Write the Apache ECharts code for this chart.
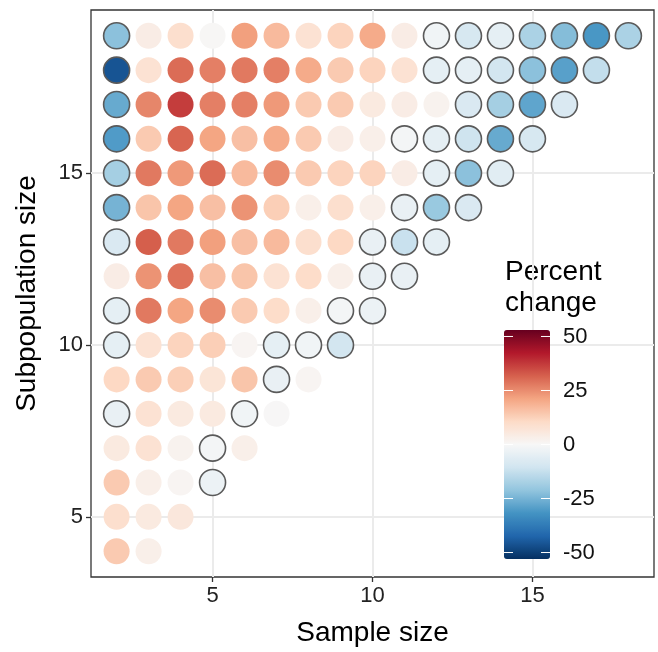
<!DOCTYPE html>
<html>
<head>
<meta charset="utf-8">
<title>Percent change</title>
<script src="https://cdn.jsdelivr.net/npm/echarts@6/dist/echarts.min.js"></script>
<style>
html, body { margin: 0; padding: 0; background: #fff; }
#chart { width: 658px; height: 652px; }
</style>
</head>
<body>
<div id="chart"></div>
<script>
// sample sizes on x, subpopulation sizes on y
const sampleSizes = [2, 3, 4, 5, 6, 7, 8, 9, 10, 11, 12, 13, 14, 15, 16, 17, 18];
const subpopSizes = [4, 5, 6, 7, 8, 9, 10, 11, 12, 13, 14, 15, 16, 17, 18, 19];
const axisTicks = [5, 10, 15];
const legendTicks = [50, 25, 0, -25, -50];

// percent change, one row per subpopulation size, sample size 2 .. (subpop - 1)
const pctChange = [
  [14, 3],
  [9, 5, 6],
  [14, 3, 1, -3],
  [5, 8, 2, -1, 3],
  [-4, 8, 5, 5, -2, 0.3],
  [11, 14, 13, 7, 15, -4, 1],
  [-5, 8, 12, 13, 1, -5, -2, -10],
  [-5, 28, 21, 25, 14, 10, 3, -1, -3],
  [4, 24, 29, 16, 15, 8, 10, 3, -4, -4],
  [-8, 32, 28, 22, 16, 17, 9, 11, -4, -12, -5],
  [-25, 15, 21, 16, 24, 13, 3, 9, 3, -4, -20, -8],
  [-18, 28, 23, 30, 17, 25, 14, 12, 12, 4, -5, -22, -6],
  [-30, 14, 31, 21, 16, 20, 14, 4, 3, -1, -5, -11, -27, -9],
  [-27, 26, 37, 27, 27, 23, 14, 14, 5, 4, 2, -8, -18, -28, -8],
  [-46, 8, 30, 27, 28, 27, 20, 14, 12, 8, -5, -5, -10, -22, -29, -13],
  [-22, 4, 9, 0.5, 22, 17, 8, 12, 20, 4, -2, -9, -5, -17, -23, -31, -17]
];

const rdbu = ['#053061', '#2166ac', '#4393c3', '#92c5de', '#d1e5f0', '#f7f7f7',
  '#fddbc7', '#f4a582', '#d6604d', '#b2182b', '#67001f'];

// split into gains (no outline) and losses (grey outline)
let gains = [], losses = [];
subpopSizes.forEach(function (sp, i) {
  pctChange[i].forEach(function (v, j) {
    let pt = [sampleSizes[j], sp, v];
    if (v < 0) losses.push(pt); else gains.push(pt);
  });
});

const FONT = '"Liberation Sans", Arial, sans-serif';
// colour bar box
const barLeft = 504, barTop = 330, barW = 46, barH = 229, vmMin = -53, vmMax = 53;

let chart = echarts.init(document.getElementById('chart'));

let legendGraphics = [{
  type: 'text',
  left: 505, top: 257,
  style: { text: 'Percent\nchange', font: '28px ' + FONT, fill: '#000', lineHeight: 31 }
}];
legendTicks.forEach(function (t) {
  let y = barTop + (vmMax - t) / (vmMax - vmMin) * barH;
  legendGraphics.push({
    type: 'text', left: 563, top: y - 11,
    style: { text: String(t), font: '22px ' + FONT, fill: '#111' }
  });
  legendGraphics.push({
    type: 'line', z: 100,
    shape: { x1: barLeft, y1: y, x2: barLeft + 9, y2: y },
    style: { stroke: '#fff', lineWidth: 1 }
  });
  legendGraphics.push({
    type: 'line', z: 100,
    shape: { x1: barLeft + barW - 9, y1: y, x2: barLeft + barW, y2: y },
    style: { stroke: '#fff', lineWidth: 1 }
  });
});

let option = {
  backgroundColor: '#fff',
  animation: false,
  grid: {
    left: 91, top: 10, width: 563, height: 568,
    show: true, borderColor: '#333', borderWidth: 1.3, backgroundColor: 'transparent'
  },
  xAxis: {
    type: 'value',
    min: 1.2, max: 18.8,
    name: 'Sample size',
    nameLocation: 'middle',
    nameGap: 42,
    nameTextStyle: { fontSize: 28, fontFamily: FONT, color: '#000' },
    axisLine: { show: false },
    axisTick: { show: true, length: 5, customValues: axisTicks, lineStyle: { color: '#333', width: 1.3 } },
    axisLabel: { customValues: axisTicks, fontSize: 22, fontFamily: FONT, color: '#222', margin: 8 },
    splitLine: { show: true, customValues: axisTicks, lineStyle: { color: '#ebebeb', width: 2 } }
  },
  yAxis: {
    type: 'value',
    min: 3.25, max: 19.75,
    name: 'Subpopulation size',
    nameLocation: 'middle',
    nameGap: 50,
    nameTextStyle: { fontSize: 28, fontFamily: FONT, color: '#000' },
    axisLine: { show: false },
    axisTick: { show: true, length: 5, customValues: axisTicks, lineStyle: { color: '#333', width: 1.3 } },
    axisLabel: { customValues: axisTicks, fontSize: 22, fontFamily: FONT, color: '#222', margin: 8 },
    splitLine: { show: true, customValues: axisTicks, lineStyle: { color: '#ebebeb', width: 2 } }
  },
  visualMap: {
    type: 'continuous',
    min: vmMin, max: vmMax,
    dimension: 2,
    seriesIndex: [0, 1],
    calculable: false,
    hoverLink: false,
    left: barLeft, top: barTop,
    padding: 0,
    itemWidth: barW, itemHeight: barH,
    inRange: { color: rdbu }
  },
  graphic: legendGraphics,
  series: [{
    name: 'gain',
    type: 'scatter',
    symbol: 'circle',
    symbolSize: 26,
    silent: true,
    itemStyle: { opacity: 1 },
    data: gains
  }, {
    name: 'loss',
    type: 'scatter',
    symbol: 'circle',
    symbolSize: 26,
    silent: true,
    itemStyle: { opacity: 1, borderColor: '#5a5a5a', borderWidth: 1.6 },
    data: losses
  }]
};
chart.setOption(option);
</script>
</body>
</html>
